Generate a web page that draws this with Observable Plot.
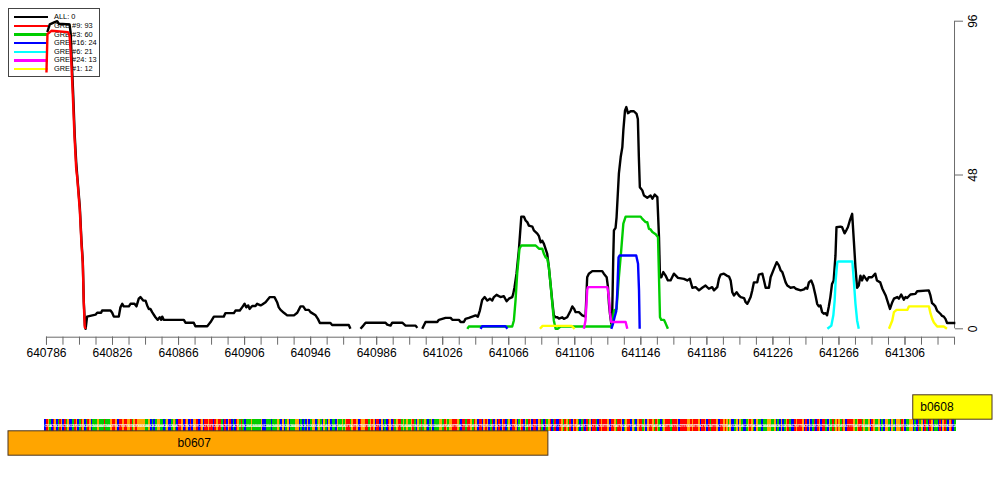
<!DOCTYPE html>
<html>
<head>
<meta charset="utf-8">
<script src="https://cdn.jsdelivr.net/npm/d3@7"></script>
<script src="https://cdn.jsdelivr.net/npm/@observablehq/plot@0.6"></script>
<style>
  body { margin: 0; background: #fff; font-family: "Liberation Sans", Arial, sans-serif; }
  #wrap { position: relative; width: 1000px; height: 500px; overflow: hidden; background: #fff; }
  #wrap svg { position: relative; z-index: 1; display: block; }
  #legend { position: absolute; left: 8px; top: 8px; width: 92px; height: 69px; border: 1px solid #444; background: #fff; z-index: 0; box-sizing: border-box; }
  .lg-line { position: absolute; left: 5px; width: 34px; height: 2.6px; }
  .lg-text { position: absolute; left: 45px; font-size: 7.4px; line-height: 8px; color: #000; white-space: nowrap; }
</style>
</head>
<body>
<div id="wrap"><div id="legend"></div></div>
<script>
// ---- data ----
const seriesNames  = ["ALL", "GRE #9", "GRE #3", "GRE #16", "GRE #6", "GRE #24", "GRE #1"];
const seriesCounts = [0, 93, 60, 24, 21, 13, 12];
const seriesColors = ["#000000", "#ff0000", "#00cd00", "#0000ff", "#00ffff", "#ff00ff", "#ffff00"];

// coverage: [genome position, reads]
const covALL = [[640786.5,92.6],[640788,95],[640791,95.7],[640792.5,96],[640793.5,95.2],[640800,95],[640800.7,92],[640801.2,85],[640802.2,73],[640803.1,60.5],[640804,52],[640804.6,48],[640806.2,38],[640807.2,27.5],[640808,21],[640808.6,8.5],[640809.3,1],[640809.7,0],[640810.6,3.8],[640815.7,4.4],[640816.7,5],[640819.1,5],[640819.7,5.7],[640824.8,5.7],[640825.8,5],[640826.8,3.8],[640829.8,3.8],[640830.8,6.7],[640831.9,7.8],[640832.8,7],[640835.9,7],[640836.9,7.8],[640839.3,7.8],[640840.5,7],[640841.9,9.4],[640842.9,9.9],[640844.6,8.8],[640846,8.8],[640847,7.3],[640848,6.2],[640849,6.2],[640850,5.2],[640852,3.6],[640853.4,2.8],[640854.6,3.6],[640855.5,2.8],[640856.1,3.8],[640857,2.8],[640869.2,2.8],[640870.2,1.9],[640875.2,1.9],[640876.2,0.8],[640883.4,0.8],[640885.4,2.1],[640887.4,3.8],[640893.4,3.8],[640894.4,4.9],[640899.5,4.9],[640900.5,5.7],[640903.1,5.7],[640904.5,6.7],[640906,7.8],[640907,6.7],[640908.2,7.3],[640909,6.2],[640910.6,7.1],[640912.6,7.1],[640913.6,7.8],[640915.7,7.3],[640916.7,7.6],[640918.7,8.3],[640921.3,9.9],[640924.1,9.9],[640925.7,8.3],[640926.7,6.7],[640927.8,5.9],[640929.8,5],[640931.8,4.2],[640935.9,4.2],[640937.9,5],[640939.9,7],[640941.5,7],[640942.9,5.9],[640944.9,5.9],[640945.9,5.2],[640949,4.2],[640950.4,3.1],[640951.6,1.8],[640958,1.8],[640959,1.2],[640969.1,1.2],[640970.1,0],[640973,NaN],[640976.2,0],[640977.9,1],[640979.3,1.9],[640991.4,1.9],[640992.4,1.3],[640994.4,1],[640995.4,1.9],[641001.5,1.9],[641003.5,1],[641009.6,1],[641010.6,0.3],[641012,NaN],[641013.6,0],[641015.6,2.1],[641022.7,2.1],[641023.7,2.8],[641027.7,3.4],[641030.8,3.4],[641031.8,2.8],[641035.8,2.8],[641036.8,2.1],[641038.8,2.1],[641039.8,3.1],[641041.8,3.4],[641043.9,3.8],[641045.9,4.2],[641047.3,3.8],[641048.5,5.7],[641049.9,9],[641051.4,9.9],[641053,8.8],[641054.6,9.4],[641056,8.8],[641057,9.9],[641058.6,10.6],[641061,9.9],[641063,10.2],[641064.7,8.6],[641066.1,9.4],[641068.1,9.9],[641068.7,10.9],[641069.5,13],[641070.7,17.2],[641072.1,24.4],[641073.6,35],[641075.2,35],[641076.2,33.8],[641077.2,33.3],[641078.2,32.2],[641080.3,31.9],[641081.2,30.7],[641083.3,29.7],[641084.3,28.9],[641085.3,27],[641086.3,27.5],[641087.3,26.5],[641089.3,23.4],[641090.3,19.2],[641091.3,14],[641092.4,8.3],[641093.3,4.2],[641094.4,3.6],[641095.4,3.6],[641096.4,3.2],[641098.4,3.6],[641099.4,3.1],[641101.4,3.6],[641103.5,5.7],[641104.5,7],[641105.5,6.3],[641106.5,5.2],[641108.5,5.2],[641110.5,4.2],[641112.5,3.8],[641113.5,16.1],[641114.5,17.2],[641116.6,18],[641122.6,18],[641123.6,17.2],[641125.3,16.1],[641126.1,13],[641126.7,7.8],[641127.3,4.7],[641128.1,1.6],[641128.7,5.7],[641129.3,22.3],[641129.7,30.7],[641130.7,31.5],[641131.3,34.8],[641132.7,48.4],[641133.8,53.6],[641134.8,56.7],[641135.4,61.9],[641136.4,68.1],[641137.2,69.2],[641138.2,67.3],[641139.8,67.9],[641141.8,67.9],[641143.4,67.1],[641144.2,65.5],[641144.8,53.6],[641145.4,44.2],[641146.9,43.2],[641147.9,41.6],[641149.9,40.9],[641151.9,41.6],[641153,40.6],[641154.4,41.9],[641156,41.1],[641157,28.6],[641157.6,16.1],[641158.4,16.1],[641159.6,17.7],[641161,16.6],[641162.4,15.1],[641164,15.1],[641166,17.2],[641168.5,15.9],[641172.1,15.6],[641174.1,15.1],[641175.7,15.6],[641177.2,12.8],[641179.2,13],[641181.2,12],[641183.2,12.8],[641185.2,13.5],[641187.2,12.5],[641189.2,13],[641190.3,12],[641192.3,13],[641193.3,15.6],[641194.3,16.9],[641196.3,17.2],[641198,16.6],[641199.4,16.3],[641200.4,15.1],[641201.4,11.4],[641202.4,10.4],[641204,11.4],[641205.4,10.4],[641206.5,9.9],[641208.5,9.6],[641209.5,8.3],[641210.5,7.8],[641211.5,8.8],[641212.5,9.9],[641213.5,12],[641214.5,14.5],[641216.5,14.5],[641217.5,16.9],[641219.6,17.2],[641220.6,15.1],[641221.6,12.8],[641223.6,12.8],[641224.6,16.1],[641226.6,18.7],[641228.3,20.8],[641229.6,19.8],[641230.7,18.2],[641231.7,17.7],[641232.7,16.1],[641233.7,14.5],[641234.7,13.5],[641236.7,12.8],[641238.8,13],[641239.8,12.5],[641242.8,12],[641244.8,12.3],[641245.8,12.8],[641246.8,12.5],[641247.8,14.5],[641249.2,15.1],[641250.4,13.5],[641251.8,10.4],[641252.8,7.8],[641253.8,7],[641254.8,7.3],[641255.8,5.2],[641256.8,4.7],[641257.8,4.9],[641258.8,4.2],[641259.8,6.8],[641260.8,9.9],[641261.8,14],[641262.8,15.1],[641263.9,22.9],[641264.5,31.7],[641266.9,31.9],[641267.9,31.7],[641269.4,29.8],[641270.6,30.9],[641271.4,31.7],[641272.6,33.8],[641274,35.9],[641275,27.6],[641276,19.2],[641277,12.8],[641278,13.5],[641279,16.6],[641280,15.1],[641281,16.6],[641283,15.1],[641284,16.1],[641286,16.1],[641288,17.2],[641289,15.1],[641291,14.5],[641292.3,12.5],[641294.3,10.4],[641295.3,8.8],[641296.9,6.2],[641298.3,8.3],[641299.3,9.4],[641301.3,9.9],[641302.3,9.4],[641303.7,10.7],[641305.3,9.1],[641306.3,9.9],[641307.3,9.6],[641309.3,10.7],[641312.3,10.9],[641313.4,11.7],[641320.4,12],[641321.4,10.4],[641322.4,8],[641323.4,7.6],[641324.4,7],[641325.4,5.7],[641327.4,4.7],[641328.5,4],[641329.5,3.8],[641330.5,3.1],[641331.5,1.8],[641336.5,1.8]];
const covGRE9  = [[640786,80],[640786.6,92],[640789,93],[640799,92.6],[640800,91.5],[640801,83.7],[640802,72.3],[640803,59.8],[640804,50],[640804.6,47.3],[640806.2,36.9],[640807.2,26.5],[640808,20.3],[640808.6,7.8],[640809.2,0.5],[640809.8,0]];
const covGRE3  = [[641040.9,0],[641041.8,0.7],[641068.1,0.7],[641069.1,2.6],[641070.1,8.8],[641071.1,17.2],[641072.5,25],[641073.6,26],[641082.3,26],[641084.3,25],[641086.3,25],[641087.3,23.4],[641088.3,22.3],[641089.3,22],[641090.3,19.2],[641091.3,14],[641092.4,7.8],[641093.3,2.6],[641094.4,0],[641095.6,0],[641097.4,0.7],[641127.7,0.7],[641128.7,1.6],[641129.7,5.7],[641131.3,6.2],[641132.7,16.1],[641134.1,24.4],[641135.4,32.8],[641136.8,35],[641145.9,35],[641146.9,34.3],[641148.9,33.3],[641149.9,33.3],[641150.9,31.2],[641151.9,31],[641153,30.2],[641155,29.5],[641156.4,28.6],[641157,16.1],[641157.6,3.6],[641158.4,2.8],[641160,2.8],[641161,1.7],[641162.4,0]];
const covGRE16 = [[641048.9,0],[641049.9,0.8],[641064,0.8],[641065.2,0],[641070,NaN],[641128.1,0],[641129.1,1.5],[641130.1,3.6],[641131.1,5.5],[641131.7,10.9],[641132.5,22.3],[641133.2,22.9],[641143.2,22.9],[641144.3,20.3],[641144.9,12],[641145.3,0]];
const covGRE6  = [[641259,0],[641261.4,1],[641262.6,4.2],[641263.4,8.8],[641264,15.1],[641265,20.8],[641265.4,21],[641274.1,21],[641275,15.1],[641276,7.8],[641277,2.6],[641278,0]];
const covGRE24 = [[641111.5,0],[641112.5,2.6],[641113.5,12],[641113.9,13],[641125.7,13],[641126.7,9.9],[641127.3,5.2],[641128.1,2.1],[641136.8,2.1],[641137.8,0]];
const covGRE1  = [[641084.9,0],[641086.5,0.9],[641104.1,0.9],[641105.9,0],[641110,NaN],[641296.3,0],[641298.3,2.6],[641299.3,5.2],[641300.9,5.9],[641307.4,5.9],[641308.4,7],[641320.5,7],[641321.5,4.7],[641322.5,3.1],[641323.5,2],[641325.5,0.7],[641329.5,0.7],[641331.4,0]];
const coverage = [covALL, covGRE9, covGRE3, covGRE16, covGRE6, covGRE24, covGRE1];

const xLabelTicks = [640786, 640826, 640866, 640906, 640946, 640986, 641026, 641066, 641106, 641146, 641186, 641226, 641266, 641306];
const xMinorTicks = d3.range(640786, 641337, 10);
const yTicks = [0, 48, 96];

const geneNames   = ["b0607", "b0608"];
const geneStarts  = [640661, 641311];
const geneEnds    = [641090, 642550];
const geneStrands = ["-", "+"];
const geneColors  = ["#ffa500", "#ffff00"];

// genomic sequence track (estimated from the colour stripes), first base position
const seqStart = 640785;
const sequence =
  "CTGACTGCATGCTAGCCATG" + "CATGCATGCAAAGAAATAAA" + "GTTGCTTGTTGGTAGTGGGG" + "GAAGCACAGGAACAGCCAGA" +
  "CTTGCTGCTCGGTCTGCTTG" + "TTCTGTTACTCGTCACTGAT" + "ACAAAGAAAAAGCCAAACAA" + "AGACGCAGCAAAGGCACACG" +
  "CAGGCAGACGACGCAACGAA" + "GAGTTAGTTGCTGGTTAGTG" + "CTTCGCACTGCTAGTTAGAG" + "AAGTACGATAGACAGCAAAG" +
  "GATGAGGTTTGACTTATTGA" + "TGCTTCGTGCATCGCT" +
  "CGTCAGCTTGCAGTCGATGC" + "TTCGTACTAGTCATCCTGAT" + "GATCGTGACATCTAGCTTAC" + "TGTTTGCTTGATTGCAGTTC" +
  "GACGTTAGCGTTGATGACAG" + "TTTATTTGCTTTTGGTGTTT" + "GCTTGCTATTTGCTTGTGAG" + "CCAGCGACCAGTGACGAACA" +
  "AAGGAAGCACGCAGTACCTG" + "TTTGCTCGCATCTGCTTACG" + "ATAGTGATGCTTTTGAGTTA" + "GAAGCTGAAGCACGGACGAC" +
  "GGATGCAAGGCACTAGCTAC" + "TGCAACTCGTACGTCA";
const baseColors = {A: "#00cc00", C: "#0000ff", G: "#ffa500", T: "#ff0000"};

// ---- layout ----
const viewStart = 640763, viewEnd = 641359;
const axisColor = "#6b6b6b";
const wrap = document.getElementById("wrap");

// legend
const legend = document.getElementById("legend");
seriesNames.forEach((n, i) => {
  const yc = 8.2 + i * 8.65;
  const ln = document.createElement("div");
  ln.className = "lg-line"; ln.style.top = (yc - 1.3) + "px"; ln.style.background = seriesColors[i];
  const tx = document.createElement("div");
  tx.className = "lg-text"; tx.style.top = (yc - 4) + "px"; tx.textContent = `${n}: ${seriesCounts[i]}`;
  legend.appendChild(ln); legend.appendChild(tx);
});

const lineMarks = coverage.map((s, i) =>
  Plot.line(s, {x: d => d[0], y: d => d[1], stroke: seriesColors[i], strokeWidth: 2.4, strokeLinejoin: "round", strokeLinecap: "butt"})
);

const topPlot = Plot.plot({
  width: 1000, height: 375,
  marginLeft: 46, marginRight: 46, marginTop: 20.7, marginBottom: 38.3,
  style: {background: "transparent", fontFamily: "'Liberation Sans', Arial, sans-serif", fontSize: "12px", color: "#000", overflow: "visible"},
  x: {domain: [viewStart, viewEnd], range: [8, 992]},
  y: {domain: [0, 96], range: [328.3, 20.7]},
  marks: [
    Plot.ruleY([0], {x1: xMinorTicks[0], x2: xMinorTicks[xMinorTicks.length - 1], dy: 8.4, stroke: axisColor}),
    Plot.ruleX([xMinorTicks[xMinorTicks.length - 1]], {y1: yTicks[0], y2: yTicks[yTicks.length - 1], stroke: axisColor}),
    Plot.axisX({ticks: xMinorTicks, tickSize: 8, tickFormat: () => "", stroke: axisColor}),
    Plot.axisX({ticks: xLabelTicks, tickSize: 8, tickPadding: 3, tickFormat: d => String(d), stroke: axisColor, fill: "#000", fontSize: 12}),
    Plot.axisY({anchor: "right", ticks: yTicks, tickSize: 8, tickFormat: () => "", stroke: axisColor}),
    Plot.text(yTicks, {x: xMinorTicks[xMinorTicks.length - 1], y: d => d, text: d => String(d), rotate: -90, dx: 19, textAnchor: "middle", lineAnchor: "middle", fontSize: 12, fill: "#000"}),
    ...lineMarks
  ]
});
wrap.appendChild(topPlot);

const genes = geneNames.map((n, i) => ({name: n, start: geneStarts[i], end: geneEnds[i], strand: geneStrands[i], color: geneColors[i]}));
const bases = Array.from(sequence, (b, i) => ({pos: seqStart + i, base: b}));

const bottomPlot = Plot.plot({
  width: 1000, height: 125,
  marginLeft: 8, marginRight: 8, marginTop: 22, marginBottom: 47.2,
  style: {background: "transparent", fontFamily: "'Liberation Sans', Arial, sans-serif", fontSize: "12px", color: "#000"},
  x: {domain: [viewStart, viewEnd], range: [8, 992], clamp: true, axis: null},
  y: {type: "band", domain: ["+", "seq", "-"], padding: 0, axis: null},
  marks: [
    Plot.barX(bases, {x1: "pos", x2: d => d.pos + 1, y: () => "seq", fill: d => baseColors[d.base], insetTop: 2.8, insetBottom: 2.8, insetLeft: 0, insetRight: 0, shapeRendering: "crispEdges"}),
    Plot.text(bases, {x: d => d.pos + 0.5, y: () => "seq", text: "base", fill: "#ffffff", fontSize: 4, fontWeight: "bold", fillOpacity: 0.85}),
    Plot.barX(genes, {x1: "start", x2: "end", y: "strand", fill: "color", stroke: "#4a3520", strokeWidth: 1, insetTop: -3.2, insetBottom: -3.2, insetLeft: 0, insetRight: 0}),
    Plot.text(genes.filter(g => g.strand === "-"), {x: g => (g.start + g.end) / 2, y: "strand", text: "name", fontSize: 12, fill: "#000"}),
    Plot.text(genes.filter(g => g.strand === "+"), {x: "start", y: "strand", text: "name", textAnchor: "start", dx: 7, fontSize: 12, fill: "#000"})
  ]
});
wrap.appendChild(bottomPlot);
</script>
</body>
</html>
